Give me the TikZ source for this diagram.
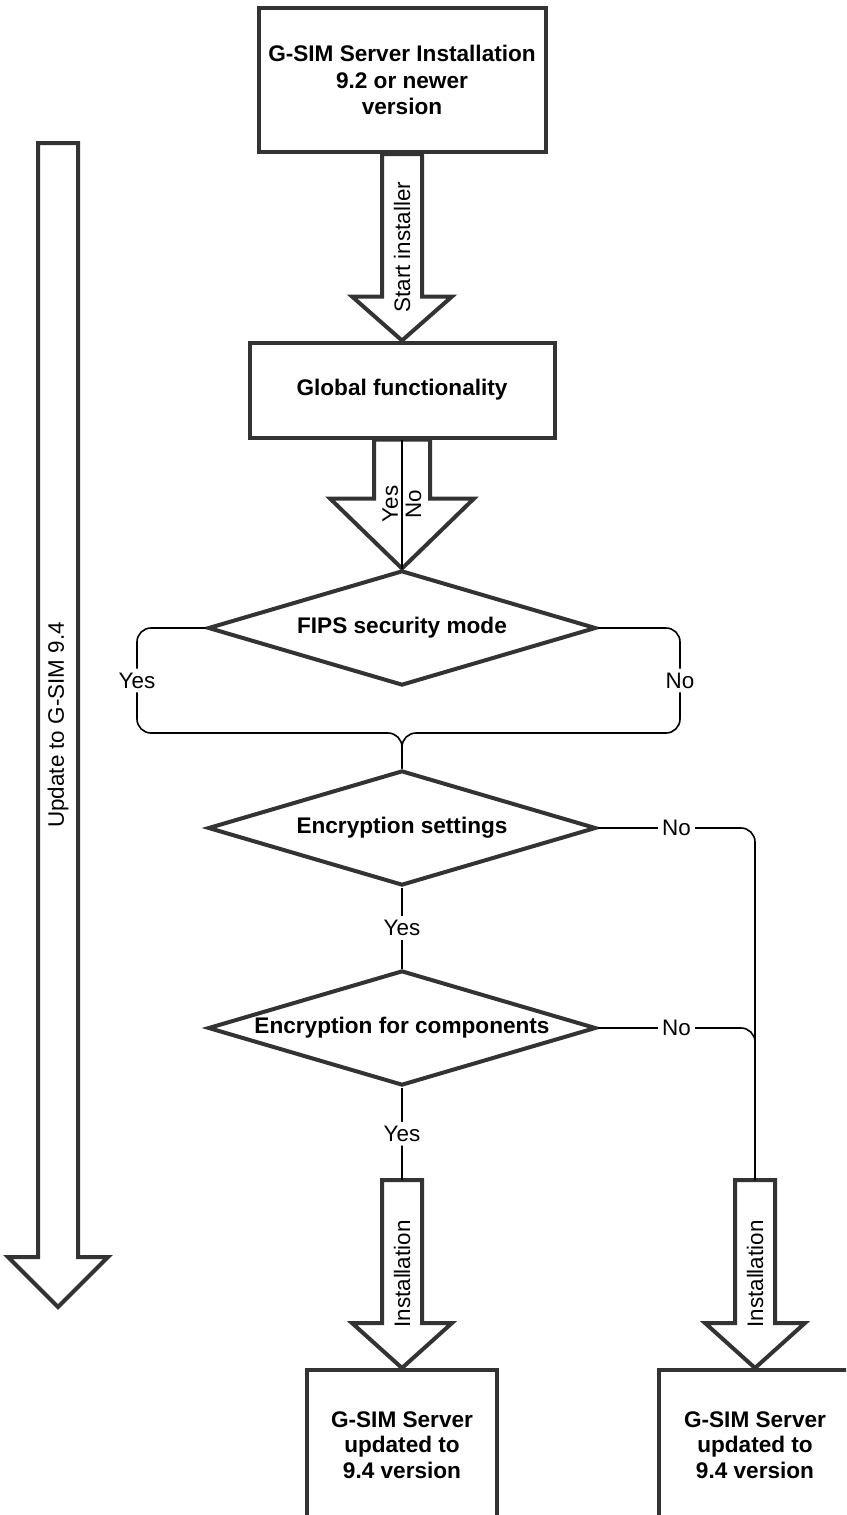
\documentclass[tikz,border=0pt]{standalone}
\usepackage{fontspec}
\setmainfont{Liberation Sans}
\usetikzlibrary{shapes.geometric,calc}
\definecolor{inkD}{HTML}{333333}
\tikzset{
  box/.style={rectangle, draw=inkD, line width=2pt, fill=white, align=center,
              inner sep=0pt, font=\bfseries\fontsize{11.3}{13.4}\selectfont},
  decision/.style={diamond, draw=inkD, line width=2pt, fill=white, aspect=3.3,
                   inner sep=0pt, minimum width=194pt, minimum height=57.5pt,
                   font=\bfseries\fontsize{11.3}{13.4}\selectfont},
  blockarr/.style={draw=inkD, line width=2pt, fill=white, line join=miter},
  conn/.style={draw=black, line width=0.8pt, rounded corners=7pt},
  lbl/.style={fill=white, inner sep=2pt, font=\fontsize{11.2}{13}\selectfont},
  rotlbl/.style={rotate=90, inner sep=1.5pt, font=\fontsize{11.2}{13}\selectfont},
}
\begin{document}
\begin{tikzpicture}[x=0.5pt, y=-0.5pt]
  \useasboundingbox (0,0) rectangle (846,1515);
  \clip (0,0) rectangle (846,1515);
  % steps
  \node[box, minimum width=143.5pt, minimum height=72pt] (top) at (402,80)
    {G-SIM Server Installation\\9.2 or newer\\version};
  \node[box, minimum width=152.5pt, minimum height=47.5pt] (glob) at (402,390)
    {Global functionality};
  \node[decision] (fips) at (402,628) {FIPS security mode};
  \node[decision] (enc) at (402,828) {Encryption settings};
  \node[decision] (comp) at (402,1028) {Encryption for components};
  \node[box, minimum width=95pt, minimum height=75pt, font=\bfseries\fontsize{11.3}{12.8}\selectfont]
    (resL) at (402,1445) {G-SIM Server\\updated to\\9.4 version};
  \node[box, minimum width=96pt, minimum height=75pt, font=\bfseries\fontsize{11.3}{12.8}\selectfont]
    (resR) at (755,1445) {G-SIM Server\\updated to\\9.4 version};
  \coordinate (instL-top) at (402,1180);
  \coordinate (instR-top) at (755,1180);
  \coordinate (upd-top) at (58,143);
  \coordinate (upd-tip) at (58,1307);
  % block arrows: from/to/shaft/head/head length
  \foreach \a/\b/\s/\h/\l in {top.south/glob.north/20/50/44,
                               glob.south/fips.north/28/72/70,
                               instL-top/resL.north/20/50/45,
                               instR-top/resR.north/20/50/45,
                               upd-top/upd-tip/20/50/50}
    \draw[blockarr] ($(\a)+(-\s,0)$) -- ($(\b)+(-\s,-\l)$) -- ($(\b)+(-\h,-\l)$)
      -- (\b) -- ($(\b)+(\h,-\l)$) -- ($(\b)+(\s,-\l)$) -- ($(\a)+(\s,0)$) -- cycle;
  \node[rotlbl] (start-lbl) at ($(top.south)!0.5!(glob.north)$) {Start installer};
  \node[rotlbl] (instL-lbl) at ($(instL-top)!0.5!(resL.north)$) {Installation};
  \node[rotlbl] (instR-lbl) at ($(instR-top)!0.5!(resR.north)$) {Installation};
  \node[rotlbl] (upd-lbl) at ($(upd-top)!0.5!(upd-tip)$) {Update to G-SIM 9.4};
  % connectors
  \draw[conn] (glob.south) -- (fips.north)
    node[rotlbl, midway, anchor=south] (gyes) {Yes}
    node[rotlbl, midway, anchor=north] (gno) {No};
  \draw[conn] (fips.west) -| (137,733) node[lbl, pos=0.75] (fyes) {Yes} -| (enc.north);
  \draw[conn] (fips.east) -| (680,733) node[lbl, pos=0.75] (fno) {No} -| (enc.north);
  \draw[conn] (enc.east) -| (instR-top) node[lbl, pos=0.25] (eno) {No};
  \draw[conn] (comp.east) -| (instR-top) node[lbl, pos=0.25] (cno) {No};
  \draw[conn] (enc.south) -- (comp.north) node[lbl, midway] (eyes) {Yes};
  \draw[conn] (comp.south) -- (instL-top) node[lbl, midway] (cyes) {Yes};
\end{tikzpicture}
\end{document}
